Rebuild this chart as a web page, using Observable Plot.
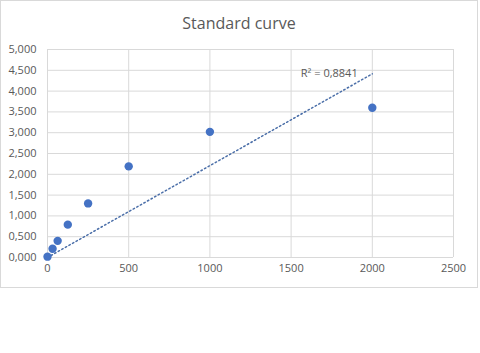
<!DOCTYPE html>
<html>
<head>
<meta charset="utf-8">
<script src="https://cdn.jsdelivr.net/npm/d3@7"></script>
<script src="https://cdn.jsdelivr.net/npm/@observablehq/plot@0.6"></script>
<style>
  body { margin: 0; background: #fff; }
  #wrap { position: relative; width: 480px; height: 353px; overflow: hidden; font-family: "Open Sans", sans-serif; }
  #frame { position: absolute; left: 0; top: 0; width: 478px; height: 288px; box-sizing: border-box; border: 1px solid #d9d9d9; }
  #title { position: absolute; left: 0; top: 12px; width: 478px; text-align: center; font-size: 16px; color: #595959; }
  #chart { position: absolute; left: 0; top: 0; }
</style>
</head>
<body>
<div id="wrap">
  <div id="frame"></div>
  <div id="chart"></div>
  <div id="title">Standard curve</div>
</div>
<script>
const concentration = [0, 31.25, 62.5, 125, 250, 500, 1000, 2000];
const absorbance = [0.02, 0.21, 0.40, 0.79, 1.30, 2.19, 3.02, 3.60];
const xTicks = [0, 500, 1000, 1500, 2000, 2500];
const yTicks = [0, 0.5, 1, 1.5, 2, 2.5, 3, 3.5, 4, 4.5, 5];
const r2Label = "R² = 0,8841";

const points = concentration.map((x, i) => ({x, y: absorbance[i]}));
// linear trendline through the origin (least squares)
const sxy = d3.sum(points, d => d.x * d.y);
const sxx = d3.sum(points, d => d.x * d.x);
const slope = sxy / sxx;
const xMax = d3.max(concentration);
const trend = [{x: 0, y: 0}, {x: xMax, y: slope * xMax}];

const fmtY = d => d.toFixed(3).replace(".", ",");
const grid = "#d9d9d9";
const ink = "#595959";

const chart = Plot.plot({
  width: 480,
  height: 300,
  marginLeft: 47,
  marginRight: 27,
  marginTop: 49,
  marginBottom: 43,
  style: {fontFamily: "Open Sans, sans-serif", fontSize: "11px", color: ink, background: "transparent", overflow: "visible"},
  x: {domain: [0, 2500]},
  y: {domain: [0, 5]},
  marks: [
    Plot.gridX(xTicks, {stroke: grid, strokeOpacity: 1}),
    Plot.gridY(yTicks, {stroke: grid, strokeOpacity: 1}),
    Plot.axisX(xTicks, {tickSize: 0, tickPadding: 7, label: null, tickFormat: d => String(d), fill: ink}),
    Plot.axisY(yTicks, {tickSize: 0, tickPadding: 11, label: null, tickFormat: fmtY, fill: ink}),
    Plot.line(trend, {x: "x", y: "y", stroke: "#4a6ea8", strokeWidth: 1.5, strokeDasharray: "1.5,2.6"}),
    Plot.dot(points, {x: "x", y: "y", r: 4.2, fill: "#4472c4", stroke: "none"}),
    Plot.text([trend[1]], {x: d => d.x - 90, y: "y", text: () => r2Label, textAnchor: "end", lineAnchor: "middle", fill: ink, fontSize: 11})
  ]
});
document.getElementById("chart").appendChild(chart);
</script>
</body>
</html>
